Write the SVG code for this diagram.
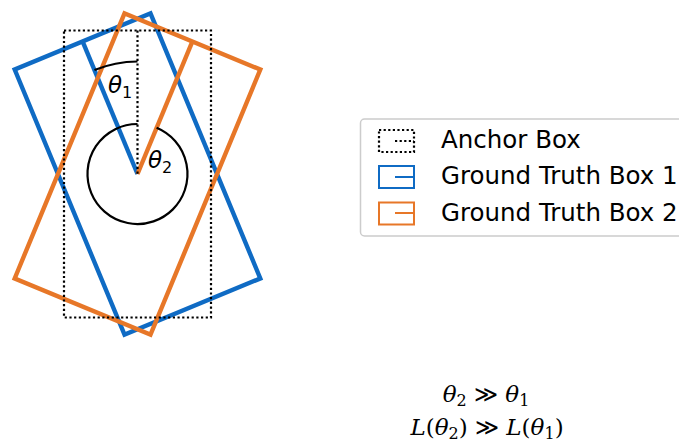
<svg xmlns="http://www.w3.org/2000/svg" width="679" height="444" viewBox="0 0 679 444">
<style>
.anchor{fill:none;stroke:#000;stroke-width:2.2;stroke-dasharray:2.2 2.5}
.gt1{fill:none;stroke:#0f6bc4;stroke-width:4.4;stroke-linejoin:miter}
.gt2{fill:none;stroke:#e77728;stroke-width:4.4;stroke-linejoin:miter}
.arc{fill:none;stroke:#000;stroke-width:2.2}
.lab{font-family:"DejaVu Sans",sans-serif;font-size:23px;fill:#000}
.leg{font-family:"DejaVu Sans",sans-serif;font-size:24.5px;fill:#000}
.math{font-family:"DejaVu Serif",serif;font-size:23px;fill:#000}
.lanchor{fill:none;stroke:#000;stroke-width:2.2;stroke-dasharray:2.2 2.4}
.lgt1{fill:none;stroke:#0f6bc4;stroke-width:2}
.lgt2{fill:none;stroke:#e77728;stroke-width:2}
</style>
<rect width="679" height="444" fill="#fff"/>
<g id="gt-box-1" transform="rotate(-22.5 137.5 174)">
<rect class="gt1" x="64" y="30.5" width="147" height="287"/>
<line class="gt1" x1="137.5" y1="30.5" x2="137.5" y2="174"/>
</g>
<g id="gt-box-2" transform="rotate(22.5 137.5 174)">
<rect class="gt2" x="64" y="30.5" width="147" height="287"/>
<line class="gt2" x1="137.5" y1="30.5" x2="137.5" y2="174"/>
</g>
<g id="anchor-box">
<rect class="anchor" x="64" y="30.5" width="147" height="287"/>
<line class="anchor" x1="137.5" y1="30.5" x2="137.5" y2="174"/>
</g>
<g id="connectors">
<path id="theta1-arc" class="arc" d="M137.5 61.5 A112.5 112.5 0 0 0 94.45 70.1"/>
<path id="theta2-arc" class="arc" d="M137.5 124 A50 50 0 1 0 156.6 127.8"/>
</g>
<g id="theta1-label"><text class="lab" x="108" y="93"><tspan font-style="italic">θ</tspan><tspan font-size="16" dy="5">1</tspan></text></g>
<g id="theta2-label"><text class="lab" x="148" y="168"><tspan font-style="italic">θ</tspan><tspan font-size="16" dy="5">2</tspan></text></g>
<g id="legend">
<rect x="360.5" y="119" width="340" height="117" rx="4" fill="#fff" stroke="#cccccc" stroke-width="1.5"/>
<g id="legend-anchor">
<rect class="lanchor" x="379" y="130" width="35" height="22"/>
<line class="lanchor" x1="395" y1="141" x2="414" y2="141"/>
<text class="leg" x="441" y="147.5">Anchor Box</text>
</g>
<g id="legend-gt1">
<rect class="lgt1" x="379" y="166" width="35" height="22"/>
<line class="lgt1" x1="395" y1="177" x2="414" y2="177"/>
<text class="leg" x="441" y="184">Ground Truth Box 1</text>
</g>
<g id="legend-gt2">
<rect class="lgt2" x="379" y="202.5" width="35" height="22"/>
<line class="lgt2" x1="395" y1="213" x2="414" y2="213"/>
<text class="leg" x="441" y="220.5">Ground Truth Box 2</text>
</g>
</g>
<g id="equations">
<text class="math" x="486" y="402" text-anchor="middle"><tspan font-style="italic">θ</tspan><tspan font-size="16" dy="4">2</tspan><tspan dy="-4"> ≫ </tspan><tspan font-style="italic">θ</tspan><tspan font-size="16" dy="4">1</tspan></text>
<text class="math" x="487" y="435" text-anchor="middle"><tspan font-style="italic">L</tspan><tspan>(</tspan><tspan font-style="italic">θ</tspan><tspan font-size="16" dy="4">2</tspan><tspan dy="-4">)  ≫  </tspan><tspan font-style="italic">L</tspan><tspan>(</tspan><tspan font-style="italic">θ</tspan><tspan font-size="16" dy="4">1</tspan><tspan dy="-4">)</tspan></text>
</g>
</svg>
